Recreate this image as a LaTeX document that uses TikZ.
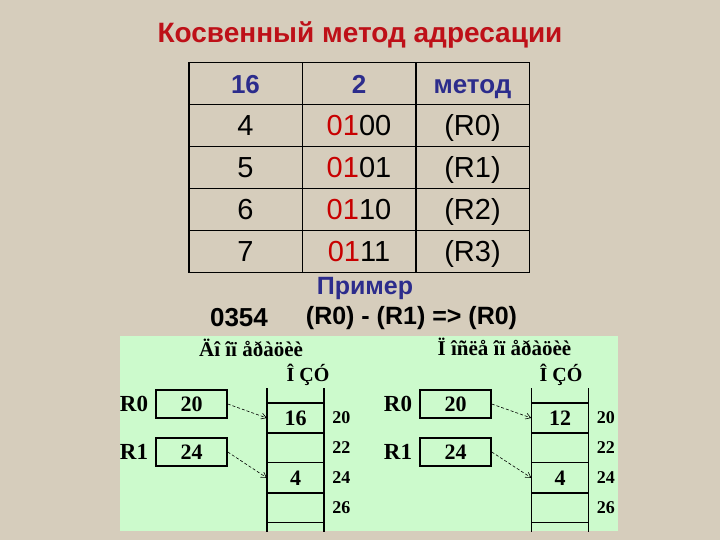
\documentclass[tikz,border=0pt]{standalone}
\usepackage{fontspec}
\setmainfont{Liberation Sans}
\newfontfamily\timesfont{Liberation Serif}
\usetikzlibrary{matrix,arrows.meta,positioning}
\definecolor{paper}{RGB}{214,205,188}
\definecolor{panel}{RGB}{204,250,204}
\definecolor{titlered}{RGB}{190,16,24}
\definecolor{navy}{RGB}{44,44,140}
\definecolor{digitred}{RGB}{200,0,0}

\begin{document}
\begin{tikzpicture}[x=1pt, y=-1pt,
        body/.style={font=\fontsize{29}{29}\selectfont},
        head/.style={text=navy, font=\bfseries\fontsize{26}{26}\selectfont},
        reg/.style={draw, line width=1.5pt, minimum width=71pt, minimum height=28pt, inner sep=0pt,
        font=\timesfont\bfseries\fontsize{22}{22}\selectfont},
        regname/.style={inner sep=0pt, font=\timesfont\bfseries\fontsize{23}{23}\selectfont},
        mem/.style={minimum width=57pt, minimum height=29.5pt, inner sep=0pt,
        font=\timesfont\bfseries\fontsize{22}{22}\selectfont},
        addr/.style={inner sep=0pt, font=\timesfont\bfseries\fontsize{18}{18}\selectfont},
        caption/.style={inner sep=0pt, font=\timesfont\bfseries\fontsize{21}{21}\selectfont},
        point/.style={dashed, dash pattern=on 3pt off 2pt, line width=0.6pt, ->},
        >={Straight Barb[length=5pt,width=6pt]}]

        \useasboundingbox (0,0) rectangle (720,540);
        \fill[paper] (0,0) rectangle (720,540);

        \node[text=titlered, font=\bfseries\fontsize{28}{28}\selectfont] (title) at (360,35) {Косвенный метод адресации};

        \matrix (tab) [matrix of nodes, column sep=-1.5pt, row sep=-1.5pt,
        nodes={draw, line width=1.5pt, minimum width=113.5pt, minimum height=42pt, inner sep=0pt,
        text height=26.8pt, text depth=6pt, anchor=center, body}]
        at (359,167.5) {
        |[head]| 16 & |[head]| 2 & |[head]| метод \\
        4 & \textcolor{digitred}{01}00 & (R0) \\
        5 & \textcolor{digitred}{01}01 & (R1) \\
        6 & \textcolor{digitred}{01}10 & (R2) \\
        7 & \textcolor{digitred}{01}11 & (R3) \\
        };

        \node[text=navy, font=\bfseries\fontsize{25}{25}\selectfont] (example) at (365,288) {Пример};
        \node[font=\bfseries\fontsize{26}{26}\selectfont] (code) at (239,318) {0354};
        \node[font=\bfseries\fontsize{25}{25}\selectfont] (expr) at (411.5,318) {(R0) - (R1) => (R0)};

        \fill[panel] (120,336) rectangle (618,531);

        % before
        \node[caption] (before) at (251,348) {Äî îï åðàöèè};
        \node[caption, font=\timesfont\bfseries\fontsize{20}{20}\selectfont] (rama) at (308,375) {Î ÇÓ};
        \node[reg] (r0a) at (191.5,404) {20};
        \node[regname, left=7pt of r0a] (r0alab) {R0};
        \node[reg] (r1a) at (191.5,452) {24};
        \node[regname, left=7pt of r1a] (r1alab) {R1};
        \node[mem] (ma1) at (295.5,418) {16};
        \node[mem, below=0pt of ma1] (ma2) {};
        \node[mem, below=0pt of ma2] (ma3) {4};
        \node[mem, below=0pt of ma3] (ma4) {};
        \draw[line width=1.5pt] ([yshift=15pt]ma1.north west) -- ([yshift=-9pt]ma4.south west);
        \draw[line width=1.5pt] ([yshift=15pt]ma1.north east) -- ([yshift=-9pt]ma4.south east);
        \draw[line width=1.5pt] (ma1.north west) -- (ma1.north east);
        \draw[line width=1.5pt] (ma1.south west) -- (ma1.south east);
        \draw[line width=0.8pt] (ma2.south west) -- (ma2.south east);
        \draw[line width=1.5pt] (ma3.south west) -- (ma3.south east);
        \draw[line width=1.5pt] (ma4.south west) -- (ma4.south east);
        \node[addr, right=8pt of ma1] (aa1) {20};
        \node[addr, right=8pt of ma2] (aa2) {22};
        \node[addr, right=8pt of ma3] (aa3) {24};
        \node[addr, right=8pt of ma4] (aa4) {26};
        \draw[point] (r0a.east) -- (ma1.west);
        \draw[point] (r1a.east) -- (ma3.west);

        % after
        \node[caption] (after) at (504.5,347) {Ï îñëå îï åðàöèè};
        \node[caption, font=\timesfont\bfseries\fontsize{20}{20}\selectfont] (ramb) at (561,375) {Î ÇÓ};
        \node[reg] (r0b) at (455.5,404) {20};
        \node[regname, left=7pt of r0b] (r0blab) {R0};
        \node[reg] (r1b) at (455.5,452) {24};
        \node[regname, left=7pt of r1b] (r1blab) {R1};
        \node[mem] (mb1) at (560,418) {12};
        \node[mem, below=0pt of mb1] (mb2) {};
        \node[mem, below=0pt of mb2] (mb3) {4};
        \node[mem, below=0pt of mb3] (mb4) {};
        \draw[line width=1.5pt] ([yshift=15pt]mb1.north west) -- ([yshift=-9pt]mb4.south west);
        \draw[line width=1.5pt] ([yshift=15pt]mb1.north east) -- ([yshift=-9pt]mb4.south east);
        \draw[line width=1.5pt] (mb1.north west) -- (mb1.north east);
        \draw[line width=1.5pt] (mb1.south west) -- (mb1.south east);
        \draw[line width=0.8pt] (mb2.south west) -- (mb2.south east);
        \draw[line width=1.5pt] (mb3.south west) -- (mb3.south east);
        \draw[line width=1.5pt] (mb4.south west) -- (mb4.south east);
        \node[addr, right=8pt of mb1] (ab1) {20};
        \node[addr, right=8pt of mb2] (ab2) {22};
        \node[addr, right=8pt of mb3] (ab3) {24};
        \node[addr, right=8pt of mb4] (ab4) {26};
        \draw[point] (r0b.east) -- (mb1.west);
        \draw[point] (r1b.east) -- (mb3.west);

    \end{tikzpicture}
\end{document}
